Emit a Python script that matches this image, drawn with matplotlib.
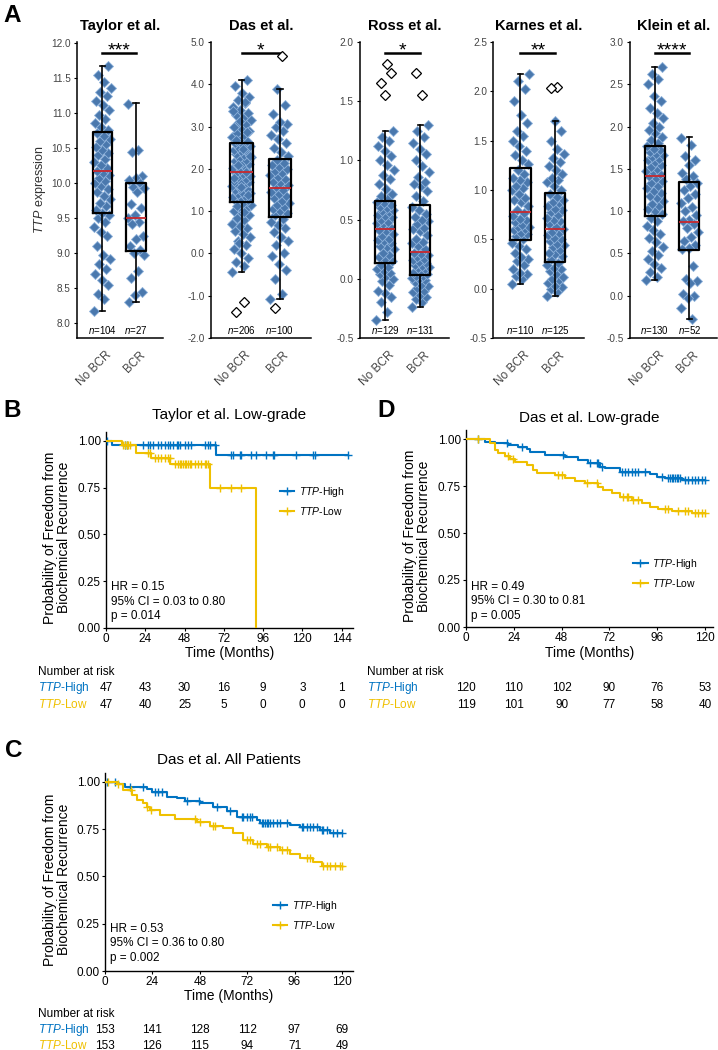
import numpy as np
import matplotlib
matplotlib.use('Agg')
import matplotlib.pyplot as plt
from matplotlib.lines import Line2D
from matplotlib.transforms import blended_transform_factory, ScaledTranslation

plt.rcParams['font.family'] = ['Liberation Sans', 'DejaVu Sans']
plt.rcParams['mathtext.fontset'] = 'custom'
plt.rcParams['mathtext.rm'] = 'Liberation Sans'
plt.rcParams['mathtext.it'] = 'Liberation Sans:italic'
plt.rcParams['mathtext.bf'] = 'Liberation Sans:bold'

# ---------------- data: panel A (TTP expression, No BCR vs BCR) ----------------
studies = ['Taylor et al.', 'Das et al.', 'Ross et al.', 'Karnes et al.', 'Klein et al.']
groups = ['No BCR', 'BCR']
n_counts = [(104, 27), (206, 100), (129, 131), (110, 125), (130, 52)]
stars = ['***', '*', '*', '**', '****']

# box stats per study: (No BCR, BCR)
medians = [(10.17, 9.51), (1.92, 1.54), (0.42, 0.228), (0.773, 0.607), (1.42, 0.874)]
q1s = [(9.575, 9.04), (1.22, 0.85), (0.13, 0.028), (0.49, 0.272), (0.94, 0.54)]
q3s = [(10.74, 10.0), (2.61, 2.23), (0.654, 0.62), (1.227, 0.966), (1.775, 1.35)]
whis_lo = [(8.17, 8.31), (-0.43, -1.07), (-0.35, -0.24), (0.05, -0.07), (0.18, -0.28)]
whis_hi = [(11.67, 11.15), (4.11, 3.89), (1.25, 1.30), (2.18, 1.70), (2.70, 1.88)]
fliers = [([], []),
          ([-1.15, -1.38], [4.68, -1.30]),
          ([1.81, 1.65, 1.74, 1.55], [1.55, 1.74]),
          ([], [2.04, 2.03]),
          ([], [])]

taylor_nobcr = [8.17, 8.35, 8.42, 8.55, 8.62, 8.7, 8.78, 8.85, 8.92, 8.98, 9.1, 9.25, 9.3, 9.38,
                9.45, 9.5, 9.55, 9.58, 9.62, 9.68, 9.72, 9.78, 9.82, 9.88, 9.92, 9.96, 10.0, 10.04,
                10.08, 10.12, 10.15, 10.18, 10.22, 10.26, 10.3, 10.35, 10.4, 10.44, 10.48, 10.52,
                10.56, 10.6, 10.64, 10.68, 10.72, 10.76, 10.8, 10.86, 10.92, 10.98, 11.05, 11.12,
                11.18, 11.25, 11.3, 11.36, 11.45, 11.55, 11.67]
taylor_bcr = [11.13, 10.47, 10.45, 10.1, 10.08, 10.05, 10.0, 9.95, 9.93, 9.88, 9.7, 9.65, 9.55,
              9.5, 9.45, 9.42, 9.25, 9.2, 9.1, 9.05, 9.0, 8.98, 8.75, 8.65, 8.45, 8.4, 8.31]
das_nobcr = [-0.43, -0.3, -0.2, -0.1, 0.0, 0.1, 0.2, 0.3, 0.38, 0.45, 0.52, 0.6, 0.66, 0.72, 0.78,
             0.84, 0.9, 0.95, 1.0, 1.05, 1.1, 1.15, 1.2, 1.25, 1.27, 1.3, 1.33, 1.35, 1.4, 1.43,
             1.45, 1.5, 1.53, 1.55, 1.6, 1.62, 1.64, 1.68, 1.7, 1.72, 1.76, 1.8, 1.84, 1.88, 1.91,
             1.95, 1.98, 2.02, 2.05, 2.08, 2.12, 2.15, 2.18, 2.22, 2.25, 2.28, 2.32, 2.35, 2.38,
             2.42, 2.45, 2.48, 2.51, 2.54, 2.57, 2.6, 2.65, 2.7, 2.75, 2.8, 2.85, 2.9, 2.95, 3.0,
             3.05, 3.1, 3.15, 3.2, 3.27, 3.33, 3.4, 3.47, 3.55, 3.62, 3.7, 3.8, 3.95, 4.11,
             0.25, 0.7, 0.98, 1.12, 1.38, 1.58, 1.78, 1.93, 2.1, 2.3, 2.47, 2.68, 2.88, 3.12,
             3.36, 3.58]
das_bcr = [-1.07, -0.95, -0.6, -0.4, -0.25, -0.05, 0.0, 0.2, 0.3, 0.4, 0.5, 0.6, 0.68, 0.75, 0.82,
           0.9, 0.95, 1.0, 1.05, 1.1, 1.15, 1.2, 1.25, 1.3, 1.35, 1.4, 1.45, 1.5, 1.58, 1.62,
           1.66, 1.7, 1.75, 1.8, 1.85, 1.9, 1.95, 2.0, 2.05, 2.1, 2.15, 2.2, 2.3, 2.4, 2.5, 2.6,
           2.7, 2.8, 2.9, 3.0, 3.05, 3.1, 3.3, 3.5, 3.89]
ross_nobcr = [-0.35, -0.28, -0.2, -0.15, -0.12, -0.1, -0.05, -0.02, 0.0, 0.02, 0.04, 0.05, 0.07,
              0.08, 0.1, 0.12, 0.15, 0.17, 0.18, 0.2, 0.22, 0.25, 0.27, 0.28, 0.3, 0.32, 0.33,
              0.34, 0.36, 0.38, 0.4, 0.41, 0.44, 0.46, 0.47, 0.48, 0.5, 0.52, 0.53, 0.54, 0.56,
              0.57, 0.58, 0.6, 0.61, 0.62, 0.64, 0.65, 0.68, 0.7, 0.72, 0.76, 0.8, 0.84, 0.88,
              0.92, 0.96, 1.0, 1.04, 1.08, 1.12, 1.16, 1.2, 1.25]
ross_bcr = [-0.24, -0.2, -0.17, -0.15, -0.14, -0.11, -0.1, -0.08, -0.06, -0.05, -0.03, -0.01, 0.0,
            0.01, 0.02, 0.025, 0.04, 0.05, 0.06, 0.08, 0.09, 0.1, 0.11, 0.12, 0.13, 0.14, 0.16,
            0.17, 0.18, 0.2, 0.21, 0.22, 0.25, 0.28, 0.3, 0.31, 0.34, 0.37, 0.4, 0.42, 0.43, 0.46,
            0.49, 0.5, 0.52, 0.55, 0.58, 0.61, 0.66, 0.7, 0.74, 0.78, 0.8, 0.82, 0.86, 0.9, 0.95,
            1.0, 1.05, 1.1, 1.15, 1.2, 1.25, 1.3]
karnes_nobcr = [0.05, 0.1, 0.13, 0.15, 0.16, 0.2, 0.24, 0.28, 0.3, 0.32, 0.36, 0.4, 0.43, 0.46,
                0.5, 0.53, 0.55, 0.56, 0.59, 0.6, 0.62, 0.63, 0.65, 0.68, 0.7, 0.71, 0.74, 0.77,
                0.8, 0.84, 0.88, 0.9, 0.92, 0.96, 1.0, 1.02, 1.04, 1.08, 1.1, 1.12, 1.16, 1.2,
                1.26, 1.3, 1.35, 1.4, 1.45, 1.5, 1.55, 1.6, 1.68, 1.76, 1.9, 2.02, 2.1, 2.18]
karnes_bcr = [-0.07, -0.03, 0.0, 0.02, 0.03, 0.06, 0.09, 0.1, 0.12, 0.15, 0.18, 0.2, 0.21, 0.24,
              0.26, 0.3, 0.33, 0.35, 0.36, 0.39, 0.42, 0.44, 0.45, 0.48, 0.5, 0.51, 0.54, 0.56,
              0.57, 0.6, 0.63, 0.66, 0.69, 0.7, 0.72, 0.75, 0.78, 0.8, 0.81, 0.84, 0.87, 0.88,
              0.9, 0.93, 0.96, 1.0, 1.04, 1.08, 1.1, 1.12, 1.16, 1.2, 1.24, 1.28, 1.32, 1.36,
              1.42, 1.5, 1.6, 1.7]
klein_nobcr = [0.18, 0.22, 0.28, 0.33, 0.38, 0.43, 0.48, 0.53, 0.58, 0.63, 0.68, 0.73, 0.78, 0.83,
               0.88, 0.92, 0.97, 1.0, 1.03, 1.06, 1.09, 1.12, 1.15, 1.18, 1.21, 1.24, 1.27, 1.3,
               1.33, 1.36, 1.39, 1.41, 1.44, 1.46, 1.48, 1.5, 1.52, 1.55, 1.58, 1.6, 1.62, 1.64,
               1.66, 1.68, 1.7, 1.72, 1.74, 1.77, 1.8, 1.84, 1.88, 1.92, 1.96, 2.0, 2.04, 2.1,
               2.16, 2.22, 2.3, 2.36, 2.5, 2.56, 2.62, 2.7]
klein_bcr = [1.87, 1.78, 1.65, 1.6, 1.55, 1.45, 1.42, 1.38, 1.33, 1.3, 1.25, 1.2, 1.15, 1.1, 1.05,
             1.0, 0.95, 0.9, 0.88, 0.85, 0.8, 0.75, 0.7, 0.65, 0.6, 0.57, 0.55, 0.35, 0.2, 0.17,
             0.15, 0.02, 0.0, -0.03, -0.15, -0.28]
points = [(taylor_nobcr, taylor_bcr), (das_nobcr, das_bcr), (ross_nobcr, ross_bcr),
          (karnes_nobcr, karnes_bcr), (klein_nobcr, klein_bcr)]

# ---------------- data: Kaplan-Meier panels ----------------
# step times / survival after the step, censor times
B_high_t = [0, 3.7, 67.0]
B_high_s = [1.0, 0.979, 0.925]
B_high_end = 148
B_high_cens = [0.4, 11.6, 12.6, 22.8, 25.8, 26.8, 28.9, 31.9, 33.9, 36.0, 38.0, 39.4, 41.0, 43.1,
               44.1, 45.1, 48.2, 50.2, 52.2, 60.4, 62.4, 63.4, 66.5, 76.6, 77.6, 81.7, 82.7, 88.8,
               91.9, 98.0, 102.0, 103.0, 116.0, 126.4, 128.0, 147.8]
B_low_t = [0, 9.6, 18.3, 27.8, 39.4, 63.4, 91.9]
B_low_s = [1.0, 0.979, 0.934, 0.907, 0.875, 0.75, 0.0]
B_low_end = 91.9
B_low_cens = [10.4, 11.6, 12.6, 13.6, 14.6, 25.8, 26.8, 29.9, 31.9, 33.9, 36.0, 38.0, 39.0, 42.1,
              44.1, 45.1, 46.1, 47.1, 48.2, 49.2, 50.2, 51.2, 52.2, 54.3, 56.3, 58.3, 60.4, 61.4,
              62.4, 69.5, 76.6, 82.7]

C_high_t = [0, 6.75, 10.1, 21.1, 23.6, 31.2, 36.3, 40.5, 48.1, 54.9, 61.6, 66.7, 76.8, 78.5,
            93.7, 98.7, 108.9, 113.9]
C_high_s = [1.0, 0.988, 0.972, 0.963, 0.949, 0.922, 0.914, 0.90, 0.887, 0.866, 0.847, 0.817,
            0.799, 0.781, 0.772, 0.76, 0.746, 0.732]
C_high_end = 120
C_high_cens = [0.84, 5.1, 12.7, 19.4, 25.3, 27.0, 28.7, 41.3, 47.5, 56.5, 63.3, 69.2, 70.0, 71.7,
               73.4, 74.3, 79.5, 80.2, 81.0, 81.9, 82.7, 83.5, 85.2, 86.9, 88.6, 92.0, 99.6,
               100.4, 102.1, 103.8, 105.5, 107.2, 109.7, 110.5, 112.2, 115.6, 117.3, 119.8]
C_low_t = [0, 5.9, 9.3, 13.5, 16.0, 19.4, 21.1, 22.8, 27.8, 35.4, 46.4, 53.2, 59.9, 65.0, 70.0,
           75.1, 81.9, 88.6, 93.7, 98.7, 105.5, 109.7]
C_low_s = [1.0, 0.988, 0.958, 0.931, 0.905, 0.887, 0.869, 0.852, 0.825, 0.804, 0.79, 0.769,
           0.755, 0.728, 0.693, 0.67, 0.658, 0.64, 0.617, 0.596, 0.575, 0.557]
C_low_end = 120
C_low_cens = [1.7, 6.8, 13.0, 21.5, 23.5, 45.5, 48.1, 54.9, 55.7, 71.7, 73.4, 76.8, 78.5, 82.5,
              83.5, 86.9, 89.5, 92.0, 102.1, 103.8, 110.5, 112.2, 113.9, 116.4, 119.0, 120.0]

D_high_t = [0, 9.5, 14.6, 21.3, 26.3, 30.5, 32.1, 39.7, 49.7, 56.4, 61.4, 67.3, 69.8, 77.3,
            92.4, 95.7, 99.9, 108.3]
D_high_s = [1.0, 0.986, 0.977, 0.968, 0.959, 0.945, 0.929, 0.915, 0.902, 0.888, 0.871, 0.853,
            0.844, 0.823, 0.814, 0.80, 0.791, 0.782]
D_high_end = 120
D_high_cens = [6.2, 20.4, 28.0, 48.9, 62.3, 65.6, 66.4, 68.1, 78.2, 79.8, 81.5, 83.2, 84.8, 86.5,
               89.9, 98.2, 101.5, 102.4, 103.2, 104.0, 104.9, 105.7, 106.6, 107.4, 110.0, 111.6,
               113.3, 115.0, 116.6, 118.3, 120.0]
D_low_t = [0, 12.1, 14.6, 16.2, 19.6, 22.1, 24.6, 30.5, 33.8, 35.5, 44.7, 49.7, 54.7, 59.7, 66.4,
           68.9, 73.1, 77.3, 83.2, 88.2, 92.4, 96.5, 103.2, 113.3]
D_low_s = [1.0, 0.98, 0.941, 0.924, 0.91, 0.892, 0.879, 0.862, 0.835, 0.817, 0.809, 0.791, 0.778,
           0.764, 0.746, 0.729, 0.711, 0.693, 0.676, 0.658, 0.64, 0.626, 0.619, 0.605]
D_low_end = 120
D_low_cens = [6.2, 21.3, 23.8, 46.4, 48.0, 60.6, 65.6, 79.0, 80.7, 81.5, 84.0, 86.5, 99.9, 101.5,
              106.6, 110.0, 111.6, 115.0, 116.6, 118.3, 120.0]

B_risk_t = [0, 24, 48, 72, 96, 120, 144]
B_risk_high = [47, 43, 30, 16, 9, 3, 1]
B_risk_low = [47, 40, 25, 5, 0, 0, 0]
C_risk_t = [0, 24, 48, 72, 96, 120]
C_risk_high = [153, 141, 128, 112, 97, 69]
C_risk_low = [153, 126, 115, 94, 71, 49]
D_risk_t = [0, 24, 48, 72, 96, 120]
D_risk_high = [120, 110, 102, 90, 76, 53]
D_risk_low = [119, 101, 90, 77, 58, 40]

B_stats = ['HR = 0.15', '95% CI = 0.03 to 0.80', 'p = 0.014']
C_stats = ['HR = 0.53', '95% CI = 0.36 to 0.80', 'p = 0.002']
D_stats = ['HR = 0.49', '95% CI = 0.30 to 0.81', 'p = 0.005']

# ---------------- figure ----------------
W, H = 718, 1050
fig = plt.figure(figsize=(W / 100, H / 100), dpi=100)


def px_axes(x0, y0, x1, y1):
    return fig.add_axes([x0 / W, 1 - y1 / H, (x1 - x0) / W, (y1 - y0) / H])


def ftext(x, y, s, **kw):
    return fig.text(x / W, 1 - y / H, s, **kw)


def spread(n, start=0):
    # deterministic horizontal spread for strip points
    k = np.arange(start, start + n)
    return ((k * 0.618034) % 1 - 0.5) * 0.5


BLUE_PT = '#4a78ad'
BLUE_EDGE = '#8db1db'
GREY = '#444444'

a_left = [77, 211, 360, 493.5, 630]
a_right = [163, 311, 449, 584, 717]
a_xlim = [(0.25, 2.8), (0.2, 2.82), (0.28, 2.82), (0.23, 2.82), (0.28, 2.8)]
a_ylim = [(7.79, 12.02), (-2.0, 5.0), (-0.5, 2.0), (-0.5, 2.5), (-0.5, 3.0)]
a_ticks = [np.arange(8.0, 12.01, 0.5), np.arange(-2.0, 5.01, 1.0), np.arange(-0.5, 2.01, 0.5),
           np.arange(-0.5, 2.51, 0.5), np.arange(-0.5, 3.01, 0.5)]

for i in range(5):
    ax = px_axes(a_left[i], 42, a_right[i], 338)
    for s in ['top', 'right']:
        ax.spines[s].set_visible(False)
    for s in ['left', 'bottom']:
        ax.spines[s].set_linewidth(1.1)

    for g in range(2):
        vals = np.array(points[i][g])
        ax.plot(g + 1 + spread(len(vals)), vals, 'D', ms=5.2, mfc=BLUE_PT, mec=BLUE_EDGE,
                mew=0.6, linestyle='none', zorder=2)
        fl = np.array(fliers[i][g])
        if len(fl):
            ax.plot(g + 1 + spread(len(fl), 1), fl, 'D', ms=5, mfc='white', mec='black',
                    mew=0.9, linestyle='none', zorder=4)

    stats = []
    for g in range(2):
        stats.append(dict(med=medians[i][g], q1=q1s[i][g], q3=q3s[i][g],
                          whislo=whis_lo[i][g], whishi=whis_hi[i][g]))
    ax.bxp(stats, positions=[1, 2], widths=0.58, capwidths=0.15, showfliers=False,
           manage_ticks=False,
           boxprops=dict(color='black', lw=1.6),
           medianprops=dict(color='#c8282d', lw=1.3),
           whiskerprops=dict(color='black', lw=1.2),
           capprops=dict(color='black', lw=1.2),
           zorder=3)

    ax.set_xlim(*a_xlim[i])
    ax.set_ylim(*a_ylim[i])
    ax.set_yticks(a_ticks[i])
    ax.set_yticklabels(['%.1f' % v for v in a_ticks[i]])
    ax.tick_params(axis='y', length=2.5, width=0.8, labelsize=7.2, labelcolor=GREY, pad=2)
    ax.set_xticks([1, 2])
    ax.set_xticklabels(groups, rotation=45, ha='right', va='top', rotation_mode='anchor',
                       fontsize=8.5, color=GREY)
    ax.tick_params(axis='x', length=0, pad=8)
    for lab in ax.get_xticklabels():
        lab.set_transform(lab.get_transform() + ScaledTranslation(3 / 100, 0, fig.dpi_scale_trans))

    tr = blended_transform_factory(ax.transData, ax.transAxes)
    ax.plot([1, 2], [0.963, 0.963], transform=tr, color='black', lw=1.8, clip_on=False)
    ax.text(1.5, 0.956, stars[i], transform=tr, ha='center', va='baseline', fontsize=14)
    for g in range(2):
        ax.text(g + 1, 0.027, r'$n$=%d' % n_counts[i][g], transform=tr, ha='center',
                va='center', fontsize=7)

    ftext((a_left[i] + a_right[i]) / 2, 30, studies[i], ha='center', va='baseline',
          fontsize=10.5, fontweight='bold')

ftext(40, 190, r'$TTP$ expression', rotation=90, ha='center', va='center', fontsize=9,
      color='#333333')

# ---------------- Kaplan-Meier panels ----------------
C_HIGH = '#0073C2'
C_LOW = '#EFC000'


def draw_curve(ax, t, s, end, cens, color):
    tt = list(t) + [end]
    ss = list(s) + [s[-1]]
    ax.step(tt, ss, where='post', color=color, lw=1.5, zorder=3)
    t_arr = np.array(t)
    cy = [s[np.searchsorted(t_arr, c, side='right') - 1] for c in cens]
    ax.plot(cens, cy, '+', color=color, ms=6, mew=1.0, linestyle='none', zorder=3)


def km_panel(box, xmax, xticks, title, curves, stat_lines, stat_y, leg_xy, risk,
             label_x, title_y, xlab_y, risk_x, risk_y):
    x0, y0, x1, y1 = box
    ax = px_axes(x0, y0, x1, y1)
    for s in ['top', 'right']:
        ax.spines[s].set_visible(False)
    for s in ['left', 'bottom']:
        ax.spines[s].set_linewidth(1.0)
    ax.set_xlim(0, xmax)
    ax.set_ylim(0, 1.05)
    ax.set_yticks([0, 0.25, 0.5, 0.75, 1.0])
    ax.set_yticklabels(['0.00', '0.25', '0.50', '0.75', '1.00'])
    ax.set_xticks(xticks)
    ax.tick_params(length=2.5, width=0.8, labelsize=8.5, pad=1.2)
    for (t, s, end, cens, color) in curves:
        draw_curve(ax, t, s, end, cens, color)
    for line, yy in zip(stat_lines, stat_y):
        ax.text(0.022, yy, line, transform=ax.transAxes, ha='left', va='center', fontsize=8.5)
    handles = [Line2D([], [], color=C_HIGH, lw=1.5, marker='+', ms=6, mew=1.0),
               Line2D([], [], color=C_LOW, lw=1.5, marker='+', ms=6, mew=1.0)]
    ax.legend(handles, [r'$TTP$-High', r'$TTP$-Low'], loc='upper left',
              bbox_to_anchor=leg_xy, frameon=False, fontsize=7.5, handlelength=1.4,
              handletextpad=0.4, labelspacing=0.55, borderaxespad=0, borderpad=0)
    cx = (x0 + x1) / 2
    ftext(cx, title_y, title, ha='center', va='baseline', fontsize=11)
    ftext(cx, xlab_y, 'Time (Months)', ha='center', va='center', fontsize=10)
    ftext(label_x, (y0 + y1) / 2 + 8, 'Probability of Freedom from\nBiochemical Recurrence',
          rotation=90, ha='center', va='center', fontsize=10, linespacing=1.05,
          multialignment='center')
    # risk table
    rt, rh, rl = risk
    ftext(risk_x, risk_y[0], 'Number at risk', ha='left', va='baseline', fontsize=8.5)
    ftext(risk_x, risk_y[1], r'$TTP$-High', ha='left', va='baseline', fontsize=8.5,
          color=C_HIGH)
    ftext(risk_x, risk_y[2], r'$TTP$-Low', ha='left', va='baseline', fontsize=8.5,
          color=C_LOW)
    tr = blended_transform_factory(ax.transData, fig.transFigure)
    for xv, a, b in zip(rt, rh, rl):
        ax.text(xv, 1 - risk_y[1] / H, str(a), transform=tr, ha='center', va='baseline',
                fontsize=8.5, clip_on=False)
        ax.text(xv, 1 - risk_y[2] / H, str(b), transform=tr, ha='center', va='baseline',
                fontsize=8.5, clip_on=False)
    return ax


km_panel((106, 431.6, 353, 628), 151, [0, 24, 48, 72, 96, 120, 144],
         'Taylor et al. Low-grade',
         [(B_high_t, B_high_s, B_high_end, B_high_cens, C_HIGH),
          (B_low_t, B_low_s, B_low_end, B_low_cens, C_LOW)],
         B_stats, [0.209, 0.132, 0.061], (0.704, 0.728),
         (B_risk_t, B_risk_high, B_risk_low),
         57, 419, 653, 38, [675, 691, 708])

km_panel((466, 429.6, 713, 627), 124, [0, 24, 48, 72, 96, 120],
         'Das et al. Low-grade',
         [(D_high_t, D_high_s, D_high_end, D_high_cens, C_HIGH),
          (D_low_t, D_low_s, D_low_end, D_low_cens, C_LOW)],
         D_stats, [0.2026, 0.132, 0.0557], (0.676, 0.355),
         (D_risk_t, D_risk_high, D_risk_low),
         417, 422, 653, 367, [675, 691, 708])

km_panel((105, 772.5, 353, 971), 125.6, [0, 24, 48, 72, 96, 120],
         'Das et al. All Patients',
         [(C_high_t, C_high_s, C_high_end, C_high_cens, C_HIGH),
          (C_low_t, C_low_s, C_low_end, C_low_cens, C_LOW)],
         C_stats, [0.2116, 0.141, 0.0655], (0.677, 0.362),
         (C_risk_t, C_risk_high, C_risk_low),
         57, 764, 996, 38, [1017, 1033, 1049])

# panel letters
for letter, x, y in [('A', 3, 22), ('B', 3, 417), ('C', 5, 757), ('D', 377, 417)]:
    ftext(x, y, letter, ha='left', va='baseline', fontsize=17.5, fontweight='bold')

fig.savefig('out.png', dpi=100)
